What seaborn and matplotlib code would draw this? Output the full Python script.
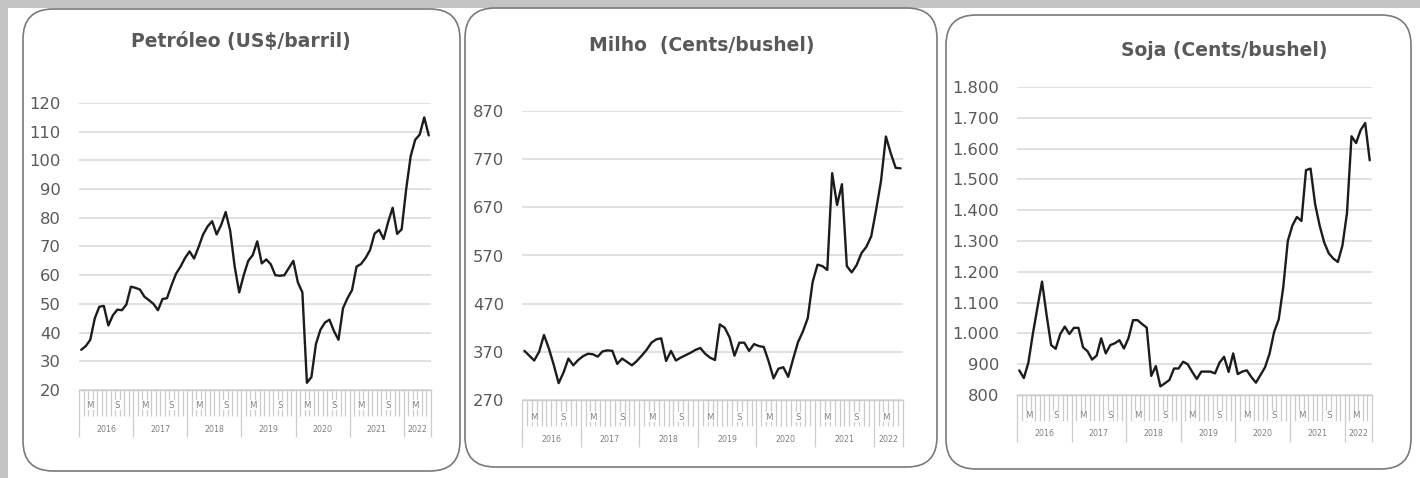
import matplotlib
matplotlib.use("Agg")
import matplotlib.pyplot as plt
import numpy as np
import pandas as pd
import seaborn as sns
from matplotlib.patches import FancyBboxPatch, Rectangle
from matplotlib.transforms import IdentityTransform, blended_transform_factory, offset_copy

# Monthly series, Jan 2016 - Jun 2022
years = ["2016", "2017", "2018", "2019", "2020", "2021", "2022"]
month_marks = {2: "M", 8: "S"}

petroleo = [34, 35.3, 37.5, 45, 49, 49.3, 42.5, 46, 48, 47.8, 49.8, 56,
            55.6, 55, 52.5, 51.3, 50, 47.8, 51.7, 52, 56.5, 60.5, 63, 66,
            68.3, 65.8, 69.8, 74.2, 77, 78.8, 74.2, 77.5, 82, 75.5, 63, 54,
            60, 65, 67, 71.8, 64.1, 65.5, 63.8, 60, 59.8, 60, 62.5, 65,
            57.5, 54, 22.5, 24.5, 36, 41, 43.5, 44.5, 40.5, 37.5, 48.5, 52,
            54.8, 63, 63.9, 66, 68.8, 74.5, 75.8, 72.6, 78.5, 83.5, 74.4, 76,
            90, 101.5, 107.2, 109, 115, 108.7]

milho = [372, 362, 352, 370, 405, 377, 343, 305, 327, 356, 342, 353,
         361, 366, 365, 360, 371, 373, 372, 345, 356, 349, 342, 351,
         362, 374, 389, 396, 398, 351, 372, 352, 358, 363, 368, 374,
         378, 366, 358, 353, 427, 420, 400, 362, 389, 389, 372, 386,
         382, 380, 350, 315, 335, 338, 318, 355, 390, 412, 440, 515,
         551, 548, 540, 741, 675, 718, 548, 535, 550, 575, 588, 610,
         665, 725, 817, 782, 752, 751]

soja = [880, 855, 905, 1000, 1085, 1168, 1060, 962, 950, 998, 1022, 998,
        1018, 1018, 955, 942, 915, 928, 984, 935, 962, 968, 978, 951,
        985, 1043, 1043, 1030, 1019, 862, 894, 828, 838, 849, 886, 886,
        908, 900, 875, 852, 876, 876, 876, 870, 905, 924, 875, 935,
        868, 876, 880, 858, 840, 865, 890, 935, 1005, 1045, 1150, 1300,
        1350, 1378, 1365, 1530, 1535, 1420, 1350, 1295, 1260, 1243, 1232, 1285,
        1390, 1640, 1618, 1660, 1683, 1562]

petroleo_ticks = [20, 30, 40, 50, 60, 70, 80, 90, 100, 110, 120]
milho_ticks = [270, 370, 470, 570, 670, 770, 870]
soja_ticks = [800, 900, 1000, 1100, 1200, 1300, 1400, 1500, 1600, 1700, 1800]
soja_labels = ["800", "900", "1.000", "1.100", "1.200", "1.300", "1.400",
               "1.500", "1.600", "1.700", "1.800"]

W, H = 1420, 478
sns.set_theme(style="white")
plt.rcParams["font.family"] = ["DejaVu Sans"]

fig = plt.figure(figsize=(W / 100, H / 100), dpi=100)
fig.patch.set_facecolor("#c4c4c4")
px = IdentityTransform()

# white page below the grey header strip
fig.add_artist(Rectangle((8, 0), W - 8, H - 8, transform=px,
                         facecolor="white", edgecolor="none", zorder=0))

TEXT = "#595959"
SMALL = "#808080"
GRID = "#d9d9d9"
TICK = "#cccccc"


def panel_box(left, top, right, bottom):
    fig.add_artist(FancyBboxPatch((left, H - bottom), right - left, bottom - top,
                                  boxstyle="round,pad=0,rounding_size=30",
                                  transform=px, facecolor="none",
                                  edgecolor="#7a7a7a", linewidth=1.2, zorder=1))


def make_panel(values, ticks, labels, box, area, title, title_xy, ms_off, yr_off):
    panel_box(*box)
    l, t, r, b = area
    ax = fig.add_axes([l / W, 1 - b / H, (r - l) / W, (b - t) / H])
    ax.set_facecolor("none")
    n = len(values)
    df = pd.DataFrame({"mes": np.arange(n), "valor": values})
    sns.lineplot(data=df, x="mes", y="valor", ax=ax, color="#1c1c1c",
                 linewidth=1.7)
    ax.set_xlim(-0.5, n - 0.5)
    ax.set_ylim(ticks[0], ticks[-1])
    ax.set_xlabel("")
    ax.set_ylabel("")

    ax.set_yticks(ticks)
    ax.set_yticklabels(labels, fontsize=11.8, color=TEXT)
    ax.tick_params(axis="y", length=0, pad=13)
    ax.yaxis.grid(True, color=GRID, linewidth=1.1)
    ax.xaxis.grid(False)
    for s in ("left", "right", "top"):
        ax.spines[s].set_visible(False)
    ax.spines["bottom"].set_color(TICK)
    ax.spines["bottom"].set_linewidth(1)

    # month boundaries (short) and year boundaries (long)
    year_edges = [-0.5 + 12 * k for k in range(len(years))] + [n - 0.5]
    ax.set_xticks(year_edges)
    ax.set_xticklabels([])
    ax.set_xticks(np.arange(n + 1) - 0.5, minor=True)
    ax.tick_params(axis="x", which="major", direction="out", length=34,
                   width=0.9, color=TICK, bottom=True)
    ax.tick_params(axis="x", which="minor", direction="out", length=18.5,
                   width=0.9, color=TICK, bottom=True)

    base = blended_transform_factory(ax.transData, ax.transAxes)
    t_ms = offset_copy(base, fig=fig, y=-ms_off, units="dots")
    t_yr = offset_copy(base, fig=fig, y=-yr_off, units="dots")
    for i in range(n):
        if i % 12 in month_marks:
            ax.text(i, 0, month_marks[i % 12], transform=t_ms, ha="center",
                    va="center", fontsize=6.2, color=SMALL,
                    bbox=dict(boxstyle="square,pad=0.05", fc="white", ec="none"))
    for k, yr in enumerate(years):
        a = year_edges[k]
        e = year_edges[k + 1]
        ax.text((a + e) / 2, 0, yr, transform=t_yr, ha="center", va="center",
                fontsize=5.7, color=SMALL)

    fig.text(title_xy[0], H - title_xy[1], title, transform=px, ha="center",
             va="center", fontsize=13.5, fontweight="bold", color=TEXT)
    return ax


make_panel(petroleo, petroleo_ticks, [str(v) for v in petroleo_ticks],
           (23, 9, 460, 471), (79, 103, 431, 390),
           "Petróleo (US$/barril)", (241, 42), 15, 40)
make_panel(milho, milho_ticks, [str(v) for v in milho_ticks],
           (465, 8, 937, 467), (522, 111, 903, 400),
           "Milho  (Cents/bushel)", (702, 45), 17, 40)
make_panel(soja, soja_ticks, soja_labels,
           (946, 15, 1411, 469), (1017, 87, 1372, 395),
           "Soja (Cents/bushel)", (1224, 50), 21, 38)

fig.savefig("out.png", dpi=100, facecolor=fig.get_facecolor())
